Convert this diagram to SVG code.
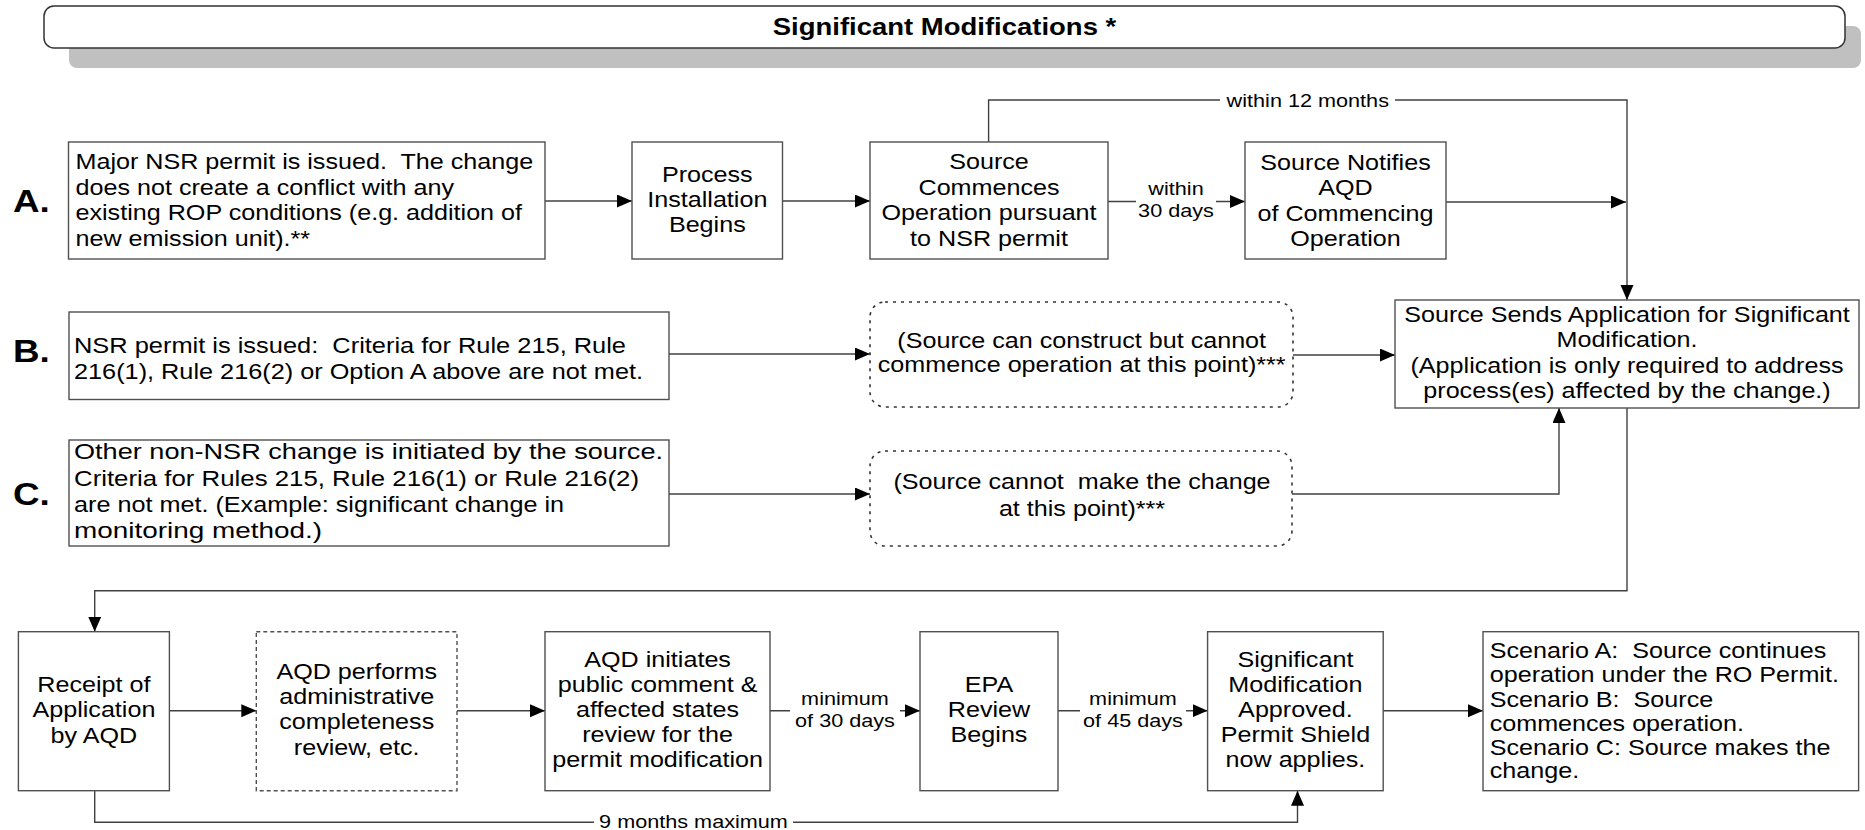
<svg xmlns="http://www.w3.org/2000/svg" width="1865" height="830" viewBox="0 0 1865 830">
<style>
text{font-family:"Liberation Sans",Arial,sans-serif;fill:#000;white-space:pre}
.t{font-size:21.5px}
.lbl{font-size:18.5px}
.ttl{font-size:23.5px;font-weight:bold}
.big{font-size:32px;font-weight:bold}
.c{text-anchor:middle}
.box{fill:#fff;stroke:#505050;stroke-width:1.4}
.dash{stroke-dasharray:4 3}
.dot{fill:#fff;stroke:#333;stroke-width:1.6;stroke-dasharray:3 5}
.ln{fill:none;stroke:#404040;stroke-width:1.4}
</style>
<defs>
<marker id="ah" markerUnits="userSpaceOnUse" markerWidth="16" markerHeight="14" refX="15" refY="6.5" orient="auto">
<path d="M0,0 L15,6.5 L0,13 z" fill="#000"/>
</marker>
</defs>

<g id="title">
<rect x="69" y="26" width="1792" height="42" rx="8" fill="#c0c0c0"/>
<rect x="44" y="6" width="1801" height="42" rx="10" fill="#fff" stroke="#333" stroke-width="1.5"/>
<text class="ttl c" transform="translate(944.5 0) scale(1.17 1)" x="0" y="35">Significant Modifications *</text>
</g>

<g id="labels">
<text class="big" transform="translate(13 0) scale(1.15 1)" x="0" y="212">A.</text>
<text class="big" transform="translate(13 0) scale(1.15 1)" x="0" y="362">B.</text>
<text class="big" transform="translate(13 0) scale(1.15 1)" x="0" y="505">C.</text>
</g>

<g id="connectors">
<path class="ln" d="M545 201 H632" marker-end="url(#ah)"/>
<path class="ln" d="M782.5 201 H870" marker-end="url(#ah)"/>
<path class="ln" d="M1108 201.5 H1136 M1216 201.5 H1245" marker-end="url(#ah)"/>
<path class="ln" d="M1446 202 H1626" marker-end="url(#ah)"/>
<path class="ln" d="M988.6 142 V100 H1220 M1395 100 H1627 V300" marker-end="url(#ah)"/>
<path class="ln" d="M669 354 H870" marker-end="url(#ah)"/>
<path class="ln" d="M1293 355 H1395" marker-end="url(#ah)"/>
<path class="ln" d="M669 494 H870" marker-end="url(#ah)"/>
<path class="ln" d="M1292 494 H1559 V408" marker-end="url(#ah)"/>
<path class="ln" d="M1627 408 V590.7 H94.7 V631.7" marker-end="url(#ah)"/>
<path class="ln" d="M169.4 710.7 H256.3" marker-end="url(#ah)"/>
<path class="ln" d="M457 710.7 H545" marker-end="url(#ah)"/>
<path class="ln" d="M770 710.7 H790 M900 710.7 H920" marker-end="url(#ah)"/>
<path class="ln" d="M1058 710.7 H1080 M1186 710.7 H1207.6" marker-end="url(#ah)"/>
<path class="ln" d="M1383.2 710.7 H1483" marker-end="url(#ah)"/>
<path class="ln" d="M94.7 790.7 V822.3 H594 M793 822.3 H1297.5 V790.7" marker-end="url(#ah)"/>
<text class="lbl c" transform="translate(1307.8 0) scale(1.17 1)" x="0" y="107">within 12 months</text>
<text class="lbl c" transform="translate(1176 0) scale(1.17 1)"><tspan x="0" y="195">within</tspan><tspan x="0" y="217">30 days</tspan></text>
<text class="lbl c" transform="translate(845 0) scale(1.17 1)"><tspan x="0" y="705">minimum</tspan><tspan x="0" y="727.5">of 30 days</tspan></text>
<text class="lbl c" transform="translate(1133 0) scale(1.17 1)"><tspan x="0" y="705">minimum</tspan><tspan x="0" y="727.5">of 45 days</tspan></text>
<text class="lbl c" transform="translate(693.5 0) scale(1.17 1)" x="0" y="828.5">9 months maximum</text>
</g>

<g id="nodeA">
<rect class="box" x="68.5" y="142" width="476.5" height="117"/>
<text class="t" transform="translate(75.5 0) scale(1.17 1)"><tspan x="0" y="169">Major NSR permit is issued.  The change</tspan><tspan x="0" y="195">does not create a conflict with any</tspan><tspan x="0" y="220.5">existing ROP conditions (e.g. addition of</tspan><tspan x="0" y="246">new emission unit).**</tspan></text>
</g>

<g id="process">
<rect class="box" x="632" y="142" width="150.5" height="117"/>
<text class="t c" transform="translate(707.3 0) scale(1.17 1)"><tspan x="0" y="182">Process</tspan><tspan x="0" y="207">Installation</tspan><tspan x="0" y="232">Begins</tspan></text>
</g>

<g id="commences">
<rect class="box" x="870" y="142" width="238" height="117"/>
<text class="t c" transform="translate(989 0) scale(1.17 1)"><tspan x="0" y="169.3">Source</tspan><tspan x="0" y="195">Commences</tspan><tspan x="0" y="220">Operation pursuant</tspan><tspan x="0" y="245.7">to NSR permit</tspan></text>
</g>

<g id="notifies">
<rect class="box" x="1245" y="142" width="201" height="117"/>
<text class="t c" transform="translate(1345.5 0) scale(1.17 1)"><tspan x="0" y="170">Source Notifies</tspan><tspan x="0" y="195">AQD</tspan><tspan x="0" y="220.7">of Commencing</tspan><tspan x="0" y="245.7">Operation</tspan></text>
</g>

<g id="sends">
<rect class="box" x="1395" y="300" width="464" height="108"/>
<text class="t c" transform="translate(1627 0) scale(1.17 1)"><tspan x="0" y="322">Source Sends Application for Significant</tspan><tspan x="0" y="347">Modification.</tspan><tspan x="0" y="373">(Application is only required to address</tspan><tspan x="0" y="398">process(es) affected by the change.)</tspan></text>
</g>

<g id="nodeB">
<rect class="box" x="69" y="312" width="600" height="87.5"/>
<text class="t" x="74" y="353" textLength="552" lengthAdjust="spacingAndGlyphs">NSR permit is issued:  Criteria for Rule 215, Rule</text>
<text class="t" x="74" y="379" textLength="569" lengthAdjust="spacingAndGlyphs">216(1), Rule 216(2) or Option A above are not met.</text>
</g>

<g id="constructB">
<rect class="dot" x="870" y="302" width="423" height="105" rx="15"/>
<text class="t c" transform="translate(1081.7 0) scale(1.17 1)"><tspan x="0" y="348.3">(Source can construct but cannot</tspan><tspan x="0" y="371.7">commence operation at this point)***</tspan></text>
</g>

<g id="nodeC">
<rect class="box" x="69" y="440" width="600" height="106"/>
<text class="t" x="74" y="459" textLength="589" lengthAdjust="spacingAndGlyphs">Other non-NSR change is initiated by the source.</text>
<text class="t" x="74" y="485.5" textLength="565" lengthAdjust="spacingAndGlyphs">Criteria for Rules 215, Rule 216(1) or Rule 216(2)</text>
<text class="t" x="74" y="512" textLength="490" lengthAdjust="spacingAndGlyphs">are not met. (Example: significant change in</text>
<text class="t" x="74" y="538" textLength="248" lengthAdjust="spacingAndGlyphs">monitoring method.)</text>
</g>

<g id="cannotC">
<rect class="dot" x="870" y="451" width="422" height="95" rx="15"/>
<text class="t c" transform="translate(1082 0) scale(1.17 1)"><tspan x="0" y="489">(Source cannot  make the change</tspan><tspan x="0" y="515.5">at this point)***</tspan></text>
</g>

<g id="receipt">
<rect class="box" x="18.4" y="631.7" width="151" height="159"/>
<text class="t c" transform="translate(93.9 0) scale(1.17 1)"><tspan x="0" y="691.7">Receipt of</tspan><tspan x="0" y="716.7">Application</tspan><tspan x="0" y="742.7">by AQD</tspan></text>
</g>

<g id="completeness">
<rect class="box dash" x="256.3" y="631.7" width="200.7" height="159"/>
<text class="t c" transform="translate(356.7 0) scale(1.17 1)"><tspan x="0" y="679">AQD performs</tspan><tspan x="0" y="704.3">administrative</tspan><tspan x="0" y="729.3">completeness</tspan><tspan x="0" y="755">review, etc.</tspan></text>
</g>

<g id="publicComment">
<rect class="box" x="545" y="631.7" width="225" height="159"/>
<text class="t c" transform="translate(657.6 0) scale(1.17 1)"><tspan x="0" y="666.7">AQD initiates</tspan><tspan x="0" y="691.7">public comment &amp;</tspan><tspan x="0" y="716.7">affected states</tspan><tspan x="0" y="741.7">review for the</tspan><tspan x="0" y="767">permit modification</tspan></text>
</g>

<g id="epa">
<rect class="box" x="920" y="631.7" width="138" height="159"/>
<text class="t c" transform="translate(989 0) scale(1.17 1)"><tspan x="0" y="691.7">EPA</tspan><tspan x="0" y="716.7">Review</tspan><tspan x="0" y="742">Begins</tspan></text>
</g>

<g id="approved">
<rect class="box" x="1207.6" y="631.7" width="175.6" height="159"/>
<text class="t c" transform="translate(1295.4 0) scale(1.17 1)"><tspan x="0" y="666.7">Significant</tspan><tspan x="0" y="691.7">Modification</tspan><tspan x="0" y="716.7">Approved.</tspan><tspan x="0" y="741.7">Permit Shield</tspan><tspan x="0" y="766.7">now applies.</tspan></text>
</g>

<g id="scenarios">
<rect class="box" x="1483" y="631.7" width="375.6" height="159"/>
<text class="t" transform="translate(1489.7 0) scale(1.17 1)"><tspan x="0" y="658.3">Scenario A:  Source continues</tspan><tspan x="0" y="682.5">operation under the RO Permit.</tspan><tspan x="0" y="706.7">Scenario B:  Source</tspan><tspan x="0" y="731">commences operation.</tspan><tspan x="0" y="755">Scenario C: Source makes the</tspan><tspan x="0" y="778.5">change.</tspan></text>
</g>
</svg>
